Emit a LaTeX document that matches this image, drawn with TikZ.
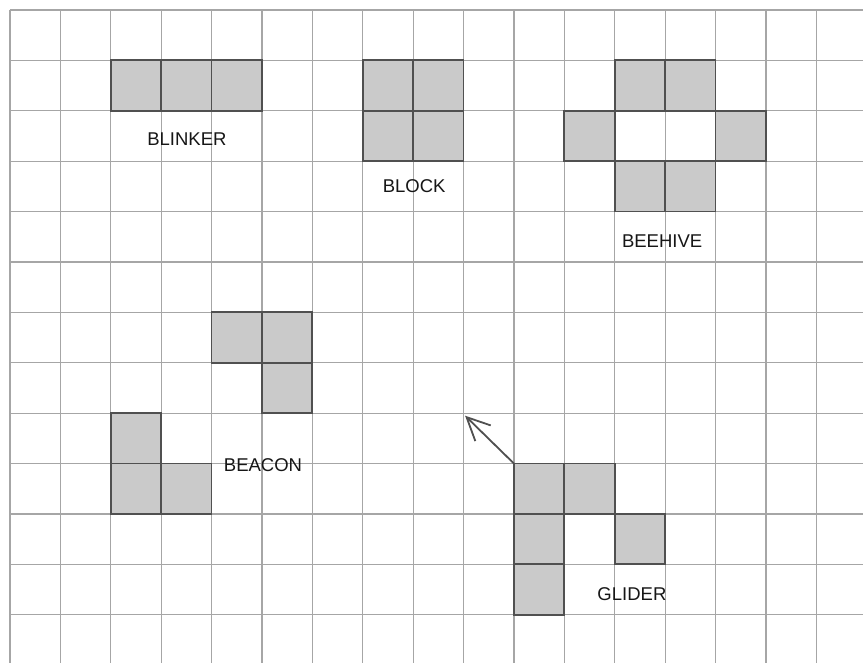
\documentclass[tikz,border=0pt]{standalone}
\usepackage{fontspec}
\setmainfont{Liberation Sans}
\usetikzlibrary{arrows.meta}
\definecolor{gridc}{HTML}{A6A6A6}
\definecolor{cellfill}{HTML}{CACACA}
\definecolor{celledge}{HTML}{505050}
\definecolor{txt}{HTML}{161616}
\tikzset{
 gridline/.style={draw=gridc, line width=1.2pt},
 cell/.style={rectangle, draw=celledge, fill=cellfill, line width=1.8pt, minimum size=50.4pt, inner sep=0pt, outer sep=0pt},
 lbl/.style={text=txt, font=\fontsize{18.5}{20}\selectfont, inner sep=0pt},
 mover/.style={draw=celledge, line width=1.8pt, -{Straight Barb[length=23pt,width=22pt]}}
}
\begin{document}
\begin{tikzpicture}[x=50.4pt,y=-50.4pt]
\path[use as bounding box, fill=white] (-0.198,-0.198) rectangle (16.925,12.956);
\foreach \i in {0,...,16} \draw[gridline] (\i,0) -- (\i,12.956);
\foreach \j in {0,...,12} \draw[gridline] (0,\j) -- (16.925,\j);
% blinker
\node[cell] (bk1) at (2.5,1.5) {};
\node[cell] (bk2) at (3.5,1.5) {};
\node[cell] (bk3) at (4.5,1.5) {};
% block
\node[cell] (bl1) at (7.5,1.5) {};
\node[cell] (bl2) at (8.5,1.5) {};
\node[cell] (bl3) at (7.5,2.5) {};
\node[cell] (bl4) at (8.5,2.5) {};
% beehive
\node[cell] (bh1) at (12.5,1.5) {};
\node[cell] (bh2) at (13.5,1.5) {};
\node[cell] (bh3) at (11.5,2.5) {};
\node[cell] (bh4) at (14.5,2.5) {};
\node[cell] (bh5) at (12.5,3.5) {};
\node[cell] (bh6) at (13.5,3.5) {};
% beacon
\node[cell] (bc1) at (4.5,6.5) {};
\node[cell] (bc2) at (5.5,6.5) {};
\node[cell] (bc3) at (5.5,7.5) {};
\node[cell] (bc4) at (2.5,8.5) {};
\node[cell] (bc5) at (2.5,9.5) {};
\node[cell] (bc6) at (3.5,9.5) {};
% glider
\node[cell] (g1) at (10.5,9.5) {};
\node[cell] (g2) at (11.5,9.5) {};
\node[cell] (g3) at (10.5,10.5) {};
\node[cell] (g4) at (12.5,10.5) {};
\node[cell] (g5) at (10.5,11.5) {};
% labels
\node[lbl] (tblinker) at (3.51,2.57) {BLINKER};
\node[lbl] (tblock) at (8.02,3.50) {BLOCK};
\node[lbl] (tbeehive) at (12.94,4.58) {BEEHIVE};
\node[lbl] (tbeacon) at (5.02,9.04) {BEACON};
\node[lbl] (tglider) at (12.34,11.59) {GLIDER};
% arrow
\coordinate (gtip) at (9.03,8.05);
\draw[mover] (g1.north west) -- (gtip);
\end{tikzpicture}
\end{document}
